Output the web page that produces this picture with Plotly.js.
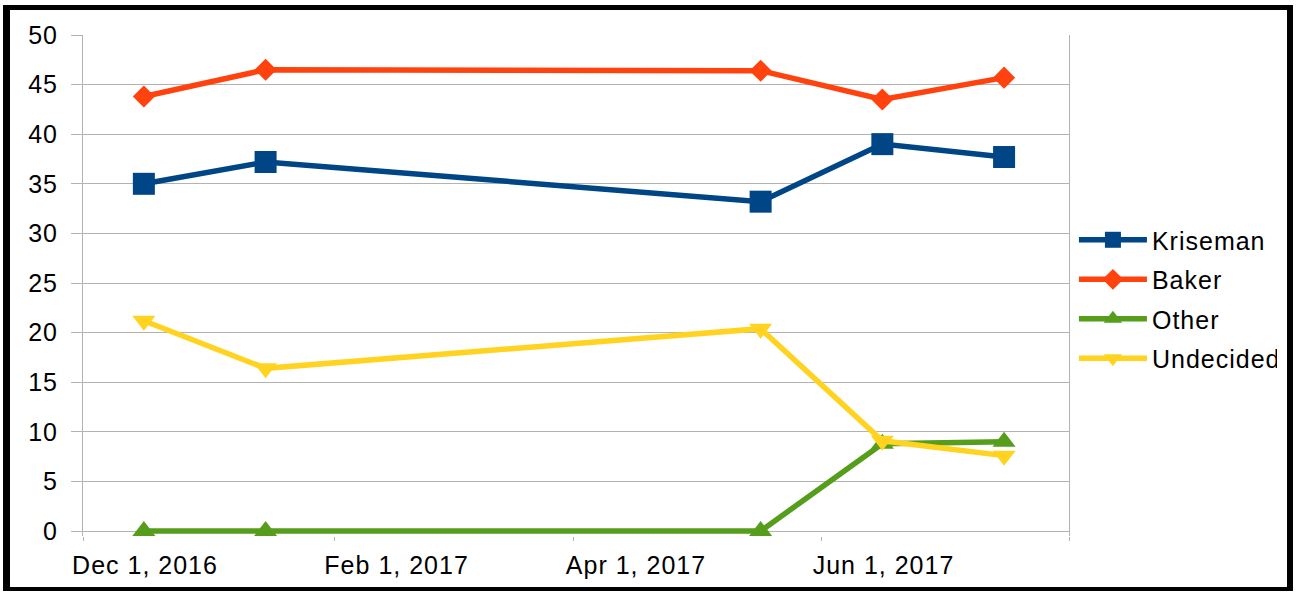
<!DOCTYPE html>
<html>
<head>
<meta charset="utf-8">
<script src="https://cdn.plot.ly/plotly-3.0.1.min.js"></script>
<style>
html, body { margin: 0; padding: 0; background: #fff; }
#wrap { position: relative; width: 1296px; height: 592px; }
#chart { width: 1296px; height: 592px; }
#frame { position: absolute; left: 3px; top: 5px; width: 1277px; height: 577px;
  border-style: solid; border-color: #000; border-width: 5px 6px 4px 7px; pointer-events: none; }
#chart .xtick text, #chart .ytick text, #chart .legendtext { letter-spacing: 1px; }
</style>
</head>
<body>
<div id="wrap">
<div id="chart"></div>
<div id="frame"></div>
</div>
<script>
const dates = ['2016-12-16', '2017-01-15', '2017-05-17', '2017-06-16', '2017-07-16'];
const kriseman = [35, 37.2, 33.2, 39, 37.7];
const baker = [43.8, 46.5, 46.4, 43.5, 45.7];
const other = [0, 0, 0, 8.8, 9];
const undecided = [21.2, 16.4, 20.4, 9.1, 7.6];
const seriesNames = ['Kriseman', 'Baker', 'Other', 'Undecided'];
const tickDates = ['2016-12-01', '2017-02-01', '2017-04-01', '2017-06-01', '2017-08-01'];
const tickLabels = ['Dec 1, 2016', 'Feb 1, 2017', 'Apr 1, 2017', 'Jun 1, 2017', ''];
const yTicks = [0, 5, 10, 15, 20, 25, 30, 35, 40, 45, 50];

const colors = ['#004586', '#ff420e', '#579d1c', '#ffd320'];
const symbols = ['square', 'diamond', 'triangle-up', 'triangle-down'];
const sizes = [22, 17, 20, 20];
const values = [kriseman, baker, other, undecided];

const traces = values.map((v, i) => ({
  x: dates, y: v, name: seriesNames[i], legendgroup: 'g' + i,
  type: 'scatter', mode: 'lines+markers',
  line: {color: colors[i], width: 5.5},
  marker: {color: colors[i], symbol: symbols[i], size: sizes[i]},
  cliponaxis: false
}));

const font = {family: '"Liberation Sans", Arial, sans-serif', size: 25, color: '#000'};
const layout = {
  width: 1296, height: 592,
  margin: {l: 83, r: 227, t: 35, b: 56},
  paper_bgcolor: '#fff', plot_bgcolor: '#fff',
  font: font,
  showlegend: true,
  legend: {x: 1.005, y: 0.473, xanchor: 'left', yanchor: 'middle', font: font,
    itemwidth: 68, tracegroupgap: 4, bgcolor: 'rgba(0,0,0,0)'},
  xaxis: {
    type: 'date', range: ['2016-12-01', '2017-08-01'],
    tickvals: tickDates, ticktext: tickLabels,
    showgrid: false, zeroline: false,
    showline: false,
    ticks: 'outside', ticklen: 4, tickcolor: '#b3b3b3', tickwidth: 1,
    ticklabelshift: 62, ticklabelstandoff: 3,
    tickfont: font
  },
  yaxis: {
    range: [-0.5, 50], tickvals: yTicks,
    showgrid: true, gridcolor: '#b3b3b3', gridwidth: 1, zeroline: false,
    showline: true, linecolor: '#b3b3b3', linewidth: 1, mirror: true,
    ticks: 'outside', ticklen: 11, tickcolor: '#b3b3b3', tickwidth: 1,
    ticklabelstandoff: 8,
    tickfont: font
  }
};
Plotly.newPlot('chart', traces, layout, {displayModeBar: false, staticPlot: true});
</script>
</body>
</html>
